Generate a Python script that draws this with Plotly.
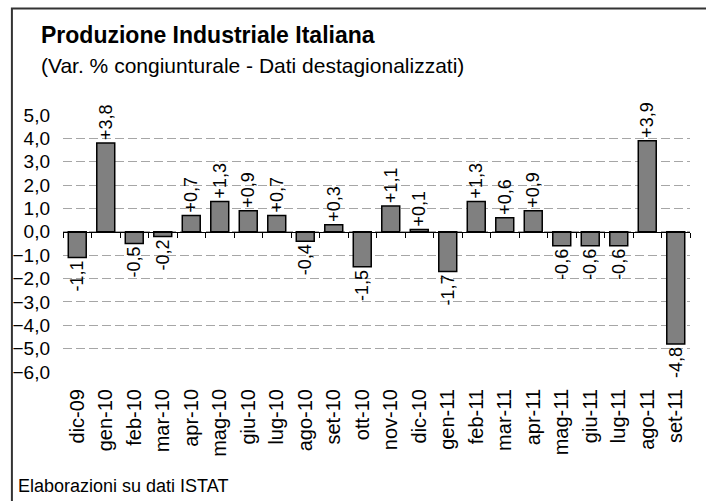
import plotly.graph_objects as go

months = ["dic-09", "gen-10", "feb-10", "mar-10", "apr-10", "mag-10", "giu-10",
          "lug-10", "ago-10", "set-10", "ott-10", "nov-10", "dic-10", "gen-11",
          "feb-11", "mar-11", "apr-11", "mag-11", "giu-11", "lug-11", "ago-11",
          "set-11"]
var_pct = [-1.1, 3.8, -0.5, -0.2, 0.7, 1.3, 0.9, 0.7, -0.4, 0.3, -1.5, 1.1,
           0.1, -1.7, 1.3, 0.6, 0.9, -0.6, -0.6, -0.6, 3.9, -4.8]
y_ticks = [5, 4, 3, 2, 1, 0, -1, -2, -3, -4, -5, -6]

title_txt = "Produzione Industriale Italiana"
subtitle_txt = "(Var. % congiunturale - Dati destagionalizzati)"
footer_txt = "Elaborazioni su dati ISTAT"

FONT = "Arial, Liberation Sans, sans-serif"
W, H = 706, 501
ML, MR, MT, MB = 58, 16, 115, 129
y_min, y_max = -6, 5

# pixel -> paper helpers (for titles / frame only)
def px(x):
    return (x - ML) / (W - ML - MR)

def py(y):
    return (H - MB - y) / (H - MT - MB)

labels = [f"{v:+.1f}".replace(".", ",") for v in var_pct]

fig = go.Figure()
fig.add_trace(go.Bar(
    x=months, y=var_pct, text=labels, textposition="outside",
    textangle=-90, constraintext="none", cliponaxis=False,
    textfont=dict(family=FONT, size=18, color="black"),
    marker=dict(color="#808080", line=dict(color="black", width=1.5)),
))
# invisible trace to hold the zero-line axis with boundary ticks
fig.add_trace(go.Scatter(x=months, y=[0] * len(months), xaxis="x2",
                         mode="lines", line=dict(width=0), hoverinfo="skip"))

# outer frame: only top and left edges are visible in the picture
fx0, fx1 = px(6.5), px(712)
fy0, fy1 = py(515), py(8.5)
frame = f"M {fx0},{fy0} L {fx0},{fy1} L {fx1},{fy1}"

fig.update_layout(
    width=W, height=H,
    margin=dict(l=ML, r=MR, t=MT, b=MB),
    paper_bgcolor="white", plot_bgcolor="white",
    showlegend=False, bargap=0.37,
    separators=",.",
    font=dict(family=FONT, color="black"),
    xaxis=dict(
        type="category", categoryarray=months, range=[-0.5, len(months) - 0.5],
        tickangle=-90, showgrid=False, showline=False, ticks="",
        tickfont=dict(size=20), ticklabelstandoff=12, zeroline=False,
    ),
    xaxis2=dict(
        type="category", categoryarray=months, range=[-0.5, len(months) - 0.5],
        overlaying="x", anchor="free", position=(0 - y_min) / (y_max - y_min),
        showline=True, linecolor="black", linewidth=1,
        ticks="outside", tickson="boundaries", ticklen=5, tickcolor="black",
        showticklabels=False, showgrid=False,
    ),
    yaxis=dict(
        range=[y_min, y_max], tickvals=y_ticks, tickformat=".1f",
        showgrid=True, gridcolor="#a6a6a6", griddash="9px,4px", gridwidth=1,
        zeroline=False, showline=False, ticks="",
        tickfont=dict(size=19), ticklabelstandoff=12,
    ),
    shapes=[dict(type="path", xref="paper", yref="paper", path=frame,
                 line=dict(color="#333333", width=2), layer="above")],
    annotations=[
        dict(text=f"<b>{title_txt}</b>", xref="paper", yref="paper",
             x=px(34), y=py(35), xanchor="left", yanchor="middle",
             showarrow=False, font=dict(size=23)),
        dict(text=subtitle_txt, xref="paper", yref="paper",
             x=px(34), y=py(65), xanchor="left", yanchor="middle",
             showarrow=False, font=dict(size=21)),
        dict(text=footer_txt, xref="paper", yref="paper",
             x=px(11), y=py(486), xanchor="left", yanchor="middle",
             showarrow=False, font=dict(size=18)),
    ],
)

fig.write_html(
    "out.html",
    config={"displayModeBar": False},
    post_script="document.body.style.margin='0';"
                "document.body.style.overflow='hidden';",
)
